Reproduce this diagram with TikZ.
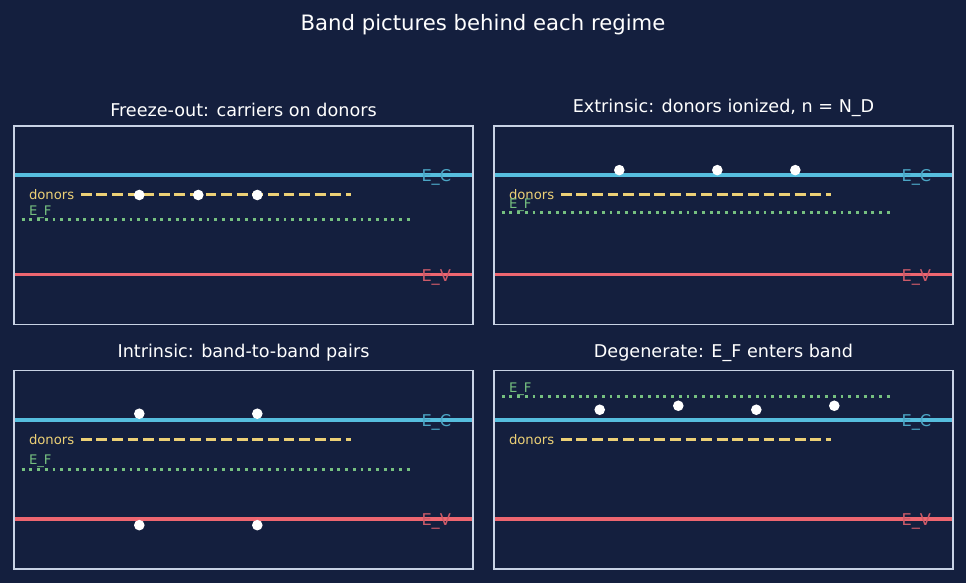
\documentclass[tikz,border=0pt]{standalone}
\usepackage{fontspec}
\setmainfont{DejaVu Sans}
\usetikzlibrary{positioning}
\definecolor{night}{RGB}{20,31,62}
\definecolor{frameline}{RGB}{200,210,228}
\definecolor{cband}{RGB}{86,190,222}
\definecolor{vband}{RGB}{238,102,112}
\definecolor{donorgold}{RGB}{236,208,118}
\definecolor{fermigreen}{RGB}{118,192,128}

\begin{document}
\begin{tikzpicture}
[every node/.style={inner sep=0pt,outer sep=0pt},
 panel/.style={draw=frameline,line width=1.5pt,minimum width=459pt,minimum height=198.5pt,anchor=south west},
 main title/.style={text=white,font=\fontsize{21.2}{24}\selectfont,anchor=base},
 panel title/.style={text=white,font=\fontsize{17.6}{20}\selectfont,anchor=base},
 band edge/.style={line width=3.8pt},
 donor level/.style={donorgold,line width=3pt,dash pattern=on 10.9pt off 4.7pt},
 fermi level/.style={fermigreen,line width=2.9pt,dash pattern=on 2.9pt off 4.8pt},
 carrier/.style={circle,fill=white,minimum size=10.6pt},
 small label/.style={font=\fontsize{13.2}{15}\selectfont,anchor=base west},
 edge label/.style={font=\fontsize{16.2}{18}\selectfont,anchor=base west,yshift=-6.7pt}]

\fill [night] (0,0) rectangle (966pt,583pt);
\useasboundingbox (0,0) rectangle (966pt,583pt);
\node [main title] (title) at (483pt,552.3pt) {Band pictures behind each regime};

% freeze-out
\begin{scope}[shift={(14pt,308.4pt)},x=1pt,y=99.5pt]
\draw [band edge,cband] (0,1) -- (459,1);
\draw [band edge,vband] (0,0) -- (459,0);
\draw [donor level] (66.7,0.8) -- (337,0.8);
\draw [fermi level] (7.7,0.55) -- (400,0.55);
\foreach \x [count=\i] in {125.3,184.3,243.3}
  \node [carrier] (e1\i) at (\x,0.8) {};
\node [small label,donorgold,yshift=-5pt] (don1) at (15,0.8) {donors};
\node [small label,fermigreen,yshift=4.5pt] (ef1) at (15,0.55) {E\_F};
\node [edge label,cband!85!night] (ec1) at (407.5,1) {E\_C};
\node [edge label,vband!85!night] (ev1) at (407.5,0) {E\_V};
\node [panel] (f1) at (0,-0.5) {};
\node [panel title,above=8.8pt of f1.north] (t1) {Freeze-out: carriers on donors};
\end{scope}

% extrinsic
\begin{scope}[shift={(494pt,308.4pt)},x=1pt,y=99.5pt]
\draw [band edge,cband] (0,1) -- (459,1);
\draw [band edge,vband] (0,0) -- (459,0);
\draw [donor level] (66.7,0.8) -- (337,0.8);
\draw [fermi level] (7.7,0.62) -- (400,0.62);
\foreach \x [count=\i] in {125.3,223.3,301.3}
  \node [carrier] (e2\i) at (\x,1.05) {};
\node [small label,donorgold,yshift=-5pt] (don2) at (15,0.8) {donors};
\node [small label,fermigreen,yshift=4.5pt] (ef2) at (15,0.62) {E\_F};
\node [edge label,cband!85!night] (ec2) at (407.5,1) {E\_C};
\node [edge label,vband!85!night] (ev2) at (407.5,0) {E\_V};
\node [panel] (f2) at (0,-0.5) {};
\node [panel title,above=8.8pt of f2.north] (t2) {Extrinsic: donors ionized, n = N\_D};
\end{scope}

% intrinsic
\begin{scope}[shift={(14pt,63.8pt)},x=1pt,y=99.5pt]
\draw [band edge,cband] (0,1) -- (459,1);
\draw [band edge,vband] (0,0) -- (459,0);
\draw [donor level] (66.7,0.8) -- (337,0.8);
\draw [fermi level] (7.7,0.5) -- (400,0.5);
\foreach \x [count=\i] in {125.3,243.3}{
  \node [carrier] (e3\i) at (\x,1.06) {};
  \node [carrier] (h3\i) at (\x,-0.06) {};}
\node [small label,donorgold,yshift=-5pt] (don3) at (15,0.8) {donors};
\node [small label,fermigreen,yshift=4.5pt] (ef3) at (15,0.5) {E\_F};
\node [edge label,cband!85!night] (ec3) at (407.5,1) {E\_C};
\node [edge label,vband!85!night] (ev3) at (407.5,0) {E\_V};
\node [panel] (f3) at (0,-0.5) {};
\node [panel title,above=8.8pt of f3.north] (t3) {Intrinsic: band-to-band pairs};
\end{scope}

% degenerate
\begin{scope}[shift={(494pt,63.8pt)},x=1pt,y=99.5pt]
\draw [band edge,cband] (0,1) -- (459,1);
\draw [band edge,vband] (0,0) -- (459,0);
\draw [donor level] (66.7,0.8) -- (337,0.8);
\draw [fermi level] (7.7,1.23) -- (400,1.23);
\foreach \x/\y [count=\i] in {105.7/1.10,184.3/1.14,262.3/1.10,340.3/1.14}
  \node [carrier] (e4\i) at (\x,\y) {};
\node [small label,donorgold,yshift=-5pt] (don4) at (15,0.8) {donors};
\node [small label,fermigreen,yshift=4.5pt] (ef4) at (15,1.23) {E\_F};
\node [edge label,cband!85!night] (ec4) at (407.5,1) {E\_C};
\node [edge label,vband!85!night] (ev4) at (407.5,0) {E\_V};
\node [panel] (f4) at (0,-0.5) {};
\node [panel title,above=8.8pt of f4.north] (t4) {Degenerate: E\_F enters band};
\end{scope}
\end{tikzpicture}
\end{document}
